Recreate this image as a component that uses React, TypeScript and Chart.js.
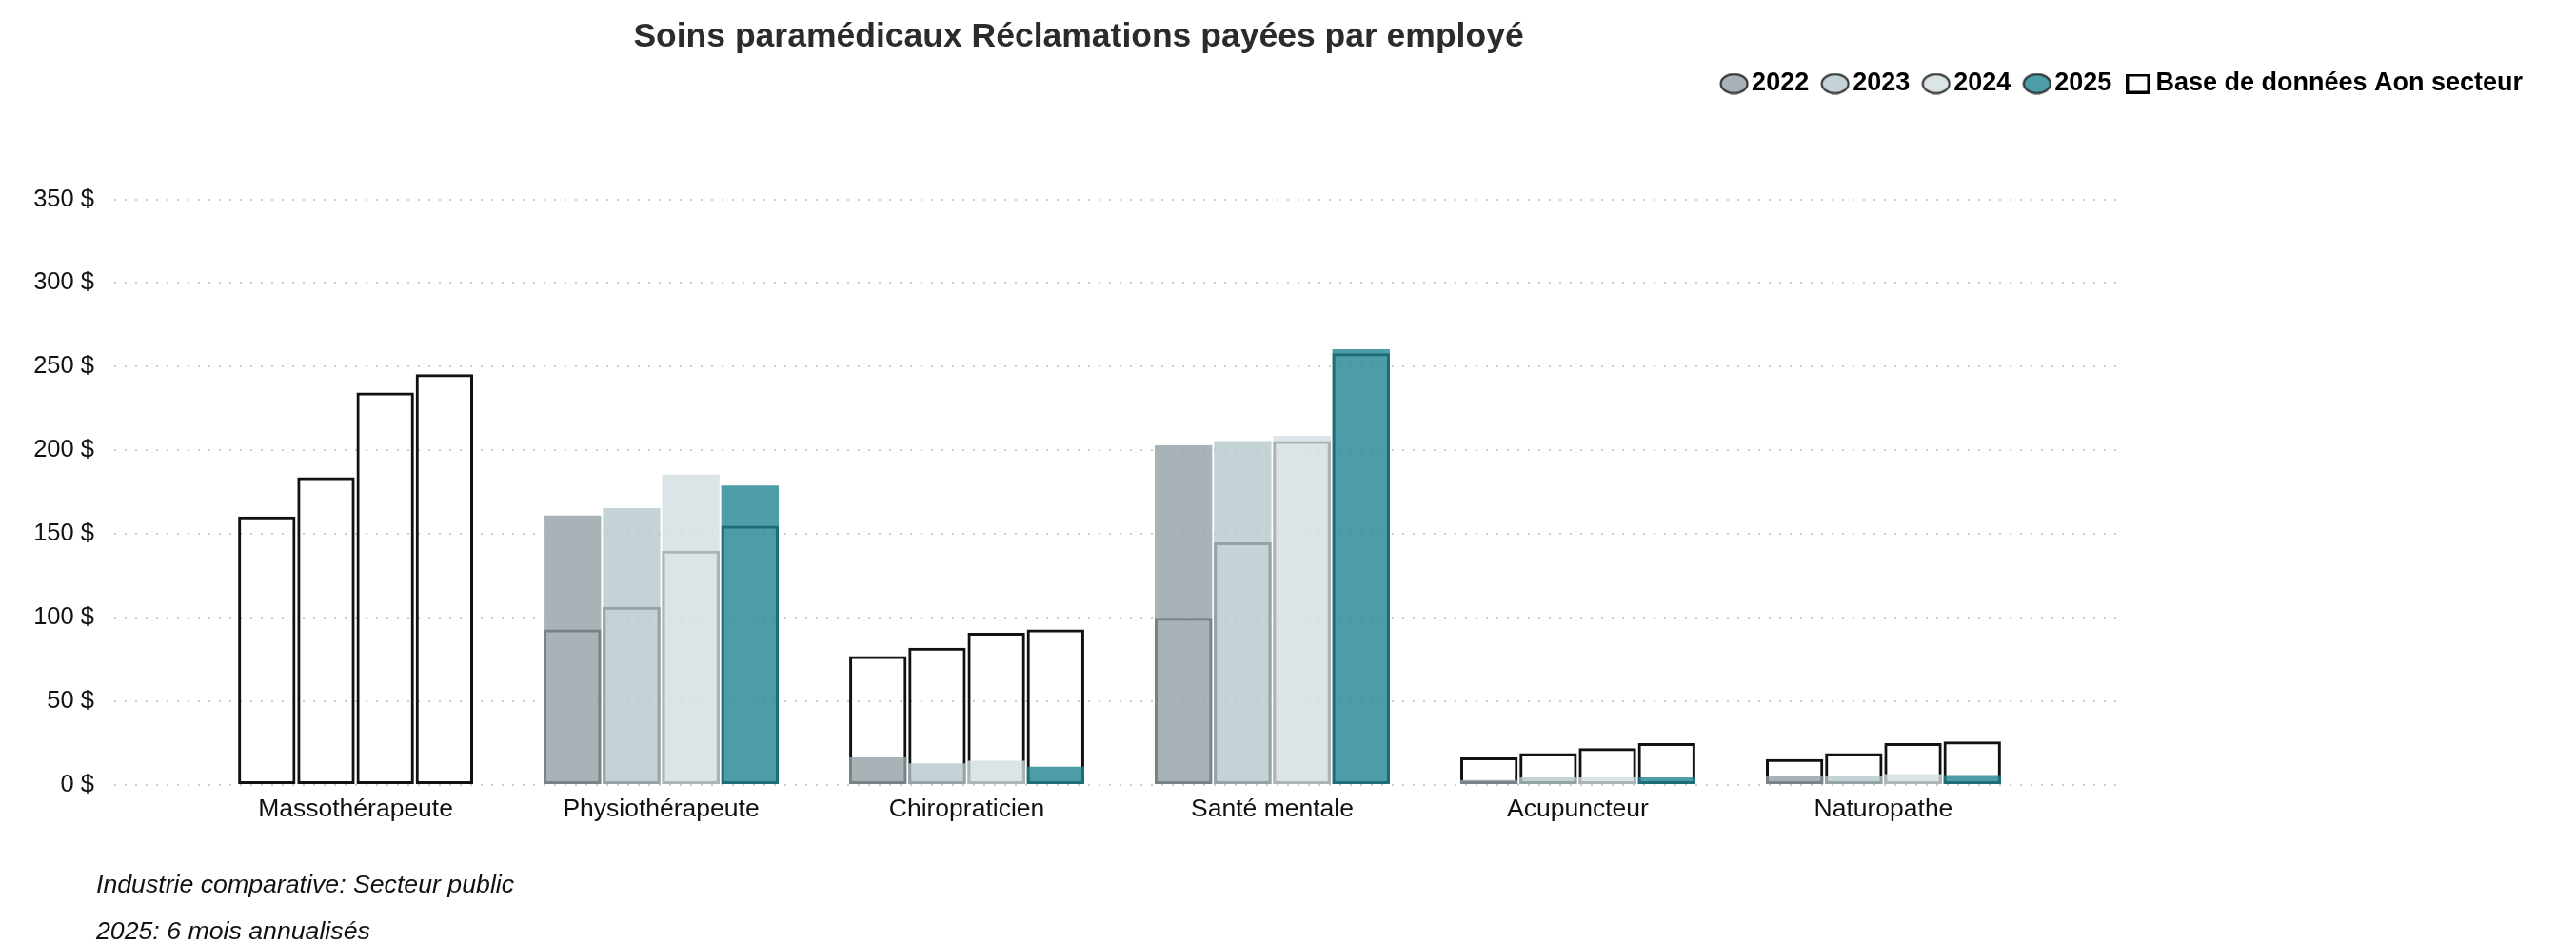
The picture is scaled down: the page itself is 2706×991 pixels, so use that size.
import { useEffect, useRef } from 'react';
import { Chart, registerables } from 'chart.js';

Chart.register(...registerables);

const FONT = "'Liberation Sans', Arial, Helvetica, sans-serif";

const TITLE = 'Soins paramédicaux Réclamations payées par employé';
const NOTES = ['Industrie comparative: Secteur public', '2025: 6 mois annualisés'];

const categories = ['Massothérapeute', 'Physiothérapeute', 'Chiropraticien', 'Santé mentale', 'Acupuncteur', 'Naturopathe'];
const years = ['2022', '2023', '2024', '2025'];
const benchmarkLabel = 'Base de données Aon secteur';

// Client values (filled bars)
const client2022 = [null, 161, 16.5, 203, 3, 5.5];
const client2023 = [null, 165.5, 13, 205.5, 4.5, 5.5];
const client2024 = [null, 185.5, 14.5, 208.5, 4.5, 6.5];
const client2025 = [null, 179, 11, 260.5, 4.5, 6];

// Industry benchmark (outlined bars)
const bench2022 = [160.5, 93, 77, 100, 16.5, 15.5];
const bench2023 = [184, 106.5, 82, 145, 19, 19];
const bench2024 = [234.5, 140, 91, 205.5, 22, 25];
const bench2025 = [245.5, 155, 93, 258, 25, 26];

const yTicks = [0, 50, 100, 150, 200, 250, 300, 350];

const clientSeries = [client2022, client2023, client2024, client2025];
const benchSeries = [bench2022, bench2023, bench2024, bench2025];

const barFills = ['rgba(146,159,165,0.8)', 'rgba(181,200,204,0.8)', 'rgba(210,221,224,0.8)', 'rgba(31,132,146,0.8)'];
const legendFills = ['#a8b2b7', '#c4d3d6', '#dbe4e6', '#4c9da8'];

function ellipseSymbol(fill: string) {
  const c = document.createElement('canvas');
  c.width = 31;
  c.height = 23;
  const ctx = c.getContext('2d')!;
  ctx.beginPath();
  ctx.ellipse(15.5, 11.5, 14, 10, 0, 0, Math.PI * 2);
  ctx.fillStyle = fill;
  ctx.fill();
  ctx.lineWidth = 2;
  ctx.strokeStyle = '#2a2a2a';
  ctx.stroke();
  return c;
}

function squareSymbol() {
  const c = document.createElement('canvas');
  c.width = 25;
  c.height = 21;
  const ctx = c.getContext('2d')!;
  ctx.fillStyle = '#ffffff';
  ctx.fillRect(1.5, 1.5, 22, 18);
  ctx.lineWidth = 3;
  ctx.strokeStyle = '#000000';
  ctx.strokeRect(1.5, 1.5, 22, 18);
  return c;
}

const legendSpacer = {
  id: 'legendSpacer',
  beforeInit(chart: any) {
    const legend = chart.legend;
    if (!legend) return;
    const orig = legend.fit;
    legend.fit = function () {
      orig.call(this);
      this.height += 98;
    };
  },
};

const textPlugin = {
  id: 'titleNotes',
  afterDraw(chart: any) {
    const { ctx } = chart;
    ctx.save();
    ctx.font = `bold 35.5px ${FONT}`;
    ctx.fillStyle = '#2b2b2b';
    ctx.textAlign = 'center';
    ctx.textBaseline = 'alphabetic';
    ctx.fillText(TITLE, 1133, 49);
    ctx.font = `italic 26.7px ${FONT}`;
    ctx.fillStyle = '#111111';
    ctx.textAlign = 'left';
    NOTES.forEach((n, i) => ctx.fillText(n, 101, 938 + i * 49));
    ctx.restore();
  },
};

export default function App() {
  const ref = useRef<HTMLCanvasElement | null>(null);

  useEffect(() => {
    if (!ref.current) return;
    const toPoints = (arr: (number | null)[]) => arr.map((v, i) => ({ x: i, y: v }));

    const datasets: any[] = [];
    years.forEach((yr, k) => {
      datasets.push({
        label: yr,
        data: toPoints(clientSeries[k]),
        backgroundColor: barFills[k],
        borderWidth: 0,
        stack: 's' + yr,
        order: 0,
        categoryPercentage: 0.775,
        barPercentage: 0.97,
      });
    });
    years.forEach((yr, k) => {
      datasets.push({
        label: benchmarkLabel + ' ' + yr,
        data: toPoints(benchSeries[k]),
        backgroundColor: 'rgba(0,0,0,0)',
        borderColor: '#111111',
        borderWidth: 3,
        borderSkipped: false,
        stack: 's' + yr,
        order: 1,
        categoryPercentage: 0.775,
        barPercentage: 0.97,
      });
    });

    const symbols = legendFills.map((f) => ellipseSymbol(f));
    const square = squareSymbol();

    const chart = new Chart(ref.current, {
      type: 'bar',
      data: { datasets },
      plugins: [legendSpacer, textPlugin],
      options: {
        animation: false,
        responsive: true,
        maintainAspectRatio: false,
        events: [],
        layout: { padding: { top: 52, right: 33.5, left: 0, bottom: 0 } },
        plugins: {
          title: { display: false },
          tooltip: { enabled: false },
          legend: {
            display: true,
            position: 'top',
            align: 'end',
            onClick: () => {},
            labels: {
              usePointStyle: true,
              boxWidth: 10,
              boxHeight: 10,
              padding: 22.5,
              color: '#000000',
              font: { size: 27, weight: 'bold', family: FONT },
              generateLabels: () => {
                const items: any[] = years.map((yr, k) => ({
                  text: yr,
                  fillStyle: legendFills[k],
                  strokeStyle: '#2a2a2a',
                  lineWidth: 2,
                  pointStyle: symbols[k],
                  hidden: false,
                  datasetIndex: k,
                  fontColor: '#000000',
                }));
                items.push({
                  text: benchmarkLabel,
                  fillStyle: '#ffffff',
                  strokeStyle: '#000000',
                  lineWidth: 3,
                  pointStyle: square,
                  hidden: false,
                  datasetIndex: 4,
                  fontColor: '#000000',
                });
                return items;
              },
            },
          },
        },
        scales: {
          x: {
            type: 'linear',
            min: -0.79,
            max: 5.79,
            stacked: true,
            offset: false,
            grid: { display: false, drawTicks: false },
            border: { display: false },
            ticks: {
              stepSize: 1,
              includeBounds: false,
              autoSkip: false,
              maxRotation: 0,
              minRotation: 0,
              padding: 10,
              color: '#111111',
              font: { size: 26.5, family: FONT },
              callback: (v: any) => (Number.isInteger(v) && categories[v] !== undefined ? categories[v] : ''),
            },
            afterFit: (s: any) => {
              s.height = 166;
            },
          },
          y: {
            type: 'linear',
            position: 'left',
            min: yTicks[0],
            max: yTicks[yTicks.length - 1],
            stacked: false,
            grid: { color: '#cccccc', lineWidth: 2, drawTicks: false },
            border: { display: false, dash: [2, 9] },
            ticks: {
              stepSize: 50,
              padding: 21,
              color: '#111111',
              font: { size: 25.5, family: FONT },
              callback: (v: any) => `${v} $`,
            },
            afterFit: (s: any) => {
              s.width = 120;
            },
          },
          yr: {
            type: 'linear',
            position: 'right',
            display: true,
            grid: { display: false, drawTicks: false },
            border: { display: false },
            ticks: { display: false },
            afterFit: (s: any) => {
              s.width = 2706 - 33.5 - 2232;
            },
          },
        },
      } as any,
    });

    return () => chart.destroy();
  }, []);

  return (
    <div style={{ position: 'fixed', left: 0, top: 0, width: 2706, height: 991, background: '#ffffff' }}>
      <canvas ref={ref} />
    </div>
  );
}
